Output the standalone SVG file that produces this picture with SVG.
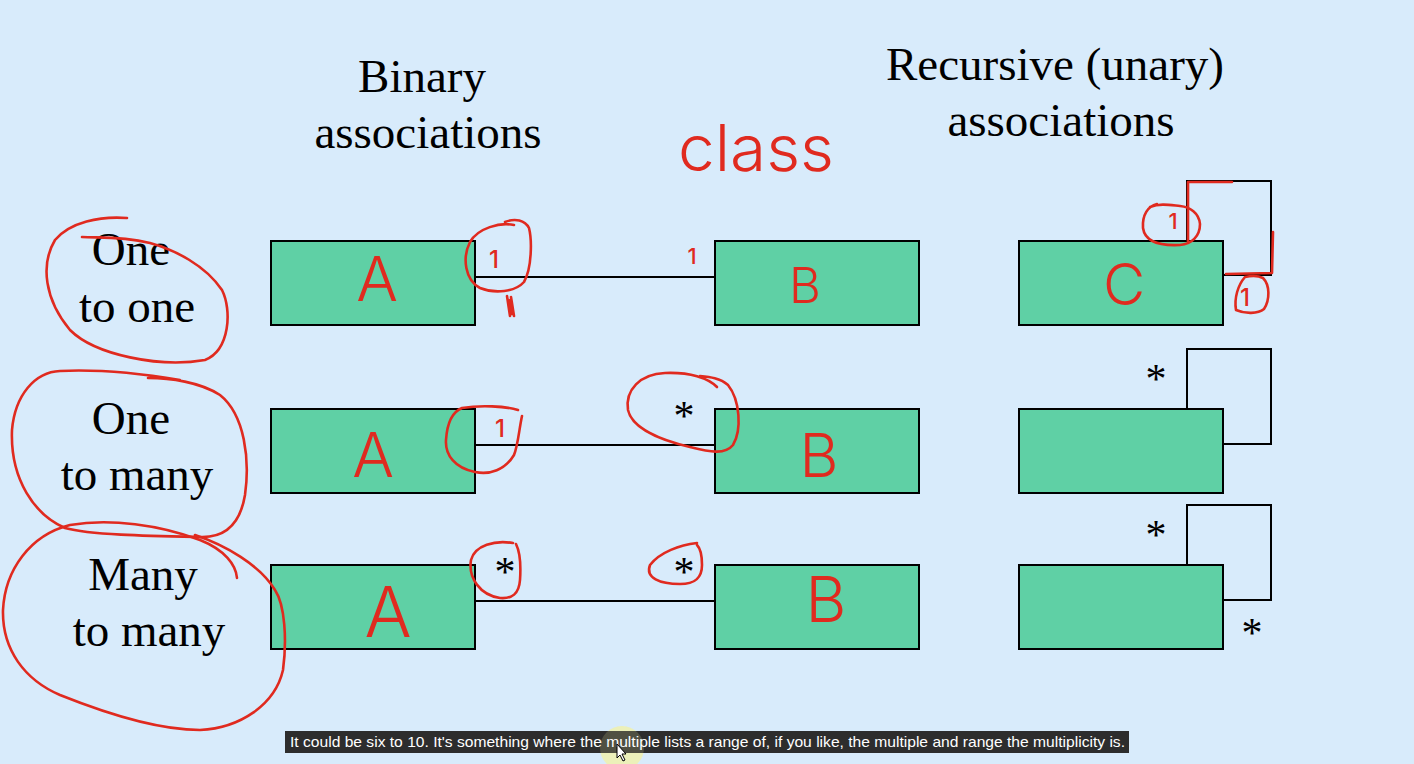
<svg xmlns="http://www.w3.org/2000/svg" width="1414" height="764" viewBox="0 0 1414 764">
<style>
.bg{fill:#d8ebfb}
.box{fill:#5fd0a5;stroke:#000;stroke-width:2}
.ln{fill:none;stroke:#000;stroke-width:2}
.t{font-family:"Liberation Serif","Times New Roman",serif;font-size:47px;fill:#000;text-anchor:middle}
.st{font-family:"Liberation Serif","Times New Roman",serif;font-size:42px;fill:#000;text-anchor:middle}
.ink{fill:none;stroke:#e02a1f;stroke-width:2.6;stroke-linecap:round;stroke-linejoin:round}
.hw{font-family:Inter,"Open Sans","Liberation Sans",Arial,sans-serif;font-weight:300;fill:#e02a1f;text-anchor:middle}
.hn{font-family:Inter,"Open Sans","Liberation Sans",Arial,sans-serif;font-weight:500;fill:#e02a1f;text-anchor:middle}
.cap{font-family:"Liberation Sans",Arial,sans-serif;font-size:15px;fill:#fff}
</style>
<rect class="bg" x="0" y="0" width="1414" height="764"/>

<g id="titles">
<text class="t" x="422" y="92">Binary</text>
<text class="t" x="428" y="148">associations</text>
<text class="t" x="1055" y="80">Recursive (unary)</text>
<text class="t" x="1061" y="136">associations</text>
</g>

<g id="row-labels">
<text class="t" x="131" y="265">One</text>
<text class="t" x="137" y="322">to one</text>
<text class="t" x="131" y="434">One</text>
<text class="t" x="137" y="490">to many</text>
<text class="t" x="143" y="590">Many</text>
<text class="t" x="149" y="646">to many</text>
</g>

<g id="connectors">
<line class="ln" x1="475" y1="277" x2="715" y2="277"/>
<line class="ln" x1="475" y1="445" x2="715" y2="445"/>
<line class="ln" x1="475" y1="601" x2="715" y2="601"/>
<polyline class="ln" points="1187,241 1187,181 1271,181 1271,275 1223,275"/>
<polyline class="ln" points="1187,409 1187,349 1271,349 1271,444 1223,444"/>
<polyline class="ln" points="1187,565 1187,505 1271,505 1271,600 1223,600"/>
</g>

<g id="node-A1"><rect class="box" x="271" y="241" width="204" height="84"/></g>
<g id="node-B1"><rect class="box" x="715" y="241" width="204" height="84"/></g>
<g id="node-C1"><rect class="box" x="1019" y="241" width="204" height="84"/></g>
<g id="node-A2"><rect class="box" x="271" y="409" width="204" height="84"/></g>
<g id="node-B2"><rect class="box" x="715" y="409" width="204" height="84"/></g>
<g id="node-C2"><rect class="box" x="1019" y="409" width="204" height="84"/></g>
<g id="node-A3"><rect class="box" x="271" y="565" width="204" height="84"/></g>
<g id="node-B3"><rect class="box" x="715" y="565" width="204" height="84"/></g>
<g id="node-C3"><rect class="box" x="1019" y="565" width="204" height="84"/></g>

<g id="multiplicities">
<text class="st" x="684" y="430">*</text>
<text class="st" x="505" y="586">*</text>
<text class="st" x="684" y="586">*</text>
<text class="st" x="1156" y="393">*</text>
<text class="st" x="1156" y="549">*</text>
<text class="st" x="1252" y="647">*</text>
</g>

<g id="annotations">
<text class="hw" x="756" y="171" font-size="64" textLength="156" lengthAdjust="spacingAndGlyphs">class</text>
<text class="hw" x="377" y="301" font-size="62">A</text>
<text class="hw" x="805" y="303" font-size="49">B</text>
<text class="hw" x="1124" y="305" font-size="58">C</text>
<text class="hw" x="373" y="477" font-size="62">A</text>
<text class="hw" x="819" y="477" font-size="60">B</text>
<text class="hw" x="388" y="637" font-size="70">A</text>
<text class="hw" x="826" y="622" font-size="63">B</text>
<text class="hn" x="494" y="268" font-size="24">1</text>
<text class="hn" x="692" y="264" font-size="22">1</text>
<text class="hn" x="500" y="437" font-size="24">1</text>
<text class="hn" x="1173" y="229" font-size="22">1</text>
<text class="hn" x="1245" y="306" font-size="24">1</text>

<path class="ink" d="M127,218 C100,216 70,222 55,240 C40,265 45,300 70,330 C95,355 160,368 205,360 C230,350 232,310 222,290 C205,265 175,250 150,243 C120,236 100,238 82,237"/>
<path class="ink" d="M148,378 C170,378 200,382 220,395 C245,415 250,460 245,495 C240,525 225,538 200,537 C150,536 90,535 65,528 C35,515 10,480 12,430 C15,395 35,372 60,371 C100,369 150,375 180,380"/>
<path class="ink" d="M237,578 C236,565 225,550 200,540 C160,525 110,518 70,525 C30,535 5,570 3,610 C2,650 25,680 60,695 C110,715 160,730 200,730 C240,728 275,705 283,670 C287,640 285,605 275,590 C260,565 225,545 195,535"/>

<path class="ink" d="M514,225 C500,222 478,228 470,242 C462,258 465,280 480,288 C495,294 515,292 524,282 C532,268 532,240 529,228 C525,220 515,218 505,222"/>
<path class="ink" d="M507,296 L510,316 M511,297 L514,316 M509,300 L512,314" stroke-width="3"/>
<path class="ink" d="M522,416 C519,430 518,445 514,455 C505,470 490,475 475,472 C455,468 445,455 446,440 C447,425 452,412 462,408 C480,405 505,406 518,410"/>
<path class="ink" d="M717,387 C708,378 690,372 665,373 C640,374 625,390 628,410 C632,428 660,440 690,447 C710,452 725,455 733,445 C742,430 740,400 728,385 C720,378 710,377 700,376"/>
<path class="ink" d="M513,543 C495,540 475,545 471,560 C468,578 480,595 500,598 C512,599 519,594 520,580 C521,565 520,552 516,544"/>
<path class="ink" d="M697,543 C680,545 660,552 650,565 C645,578 660,584 680,584 C695,584 702,578 702,565 C702,555 700,548 697,545"/>

<path class="ink" d="M1188,242 L1188,182 L1232,182"/>
<path class="ink" d="M1273,232 L1272,273 L1226,274"/>
<path class="ink" d="M1157,204 C1148,206 1142,215 1143,228 C1145,242 1160,246 1180,245 C1192,244 1200,236 1200,224 C1199,213 1190,207 1180,206 C1170,205 1160,203 1150,207"/>
<path class="ink" d="M1245,277 C1238,285 1234,298 1236,310 C1245,314 1258,314 1264,309 C1270,300 1270,285 1263,278 C1257,275 1250,276 1245,277"/>
</g>

<g id="caption">
<circle cx="622" cy="748" r="22" fill="#f2f2a8" opacity="0.75"/>
<rect x="285" y="731" width="844" height="22" fill="#2d2d2d"/>
<circle cx="622" cy="748" r="22" fill="#f2f2a8" opacity="0.18"/>
<text class="cap" x="290" y="747" textLength="835" lengthAdjust="spacingAndGlyphs">It could be six to 10. It's something where the multiple lists a range of, if you like, the multiple and range the multiplicity is.</text>
<path d="M617,744 L617,758 L620,755 L623,761 L625,760 L622,754 L626,754 Z" fill="#fff" stroke="#000" stroke-width="1"/>
</g>
</svg>
